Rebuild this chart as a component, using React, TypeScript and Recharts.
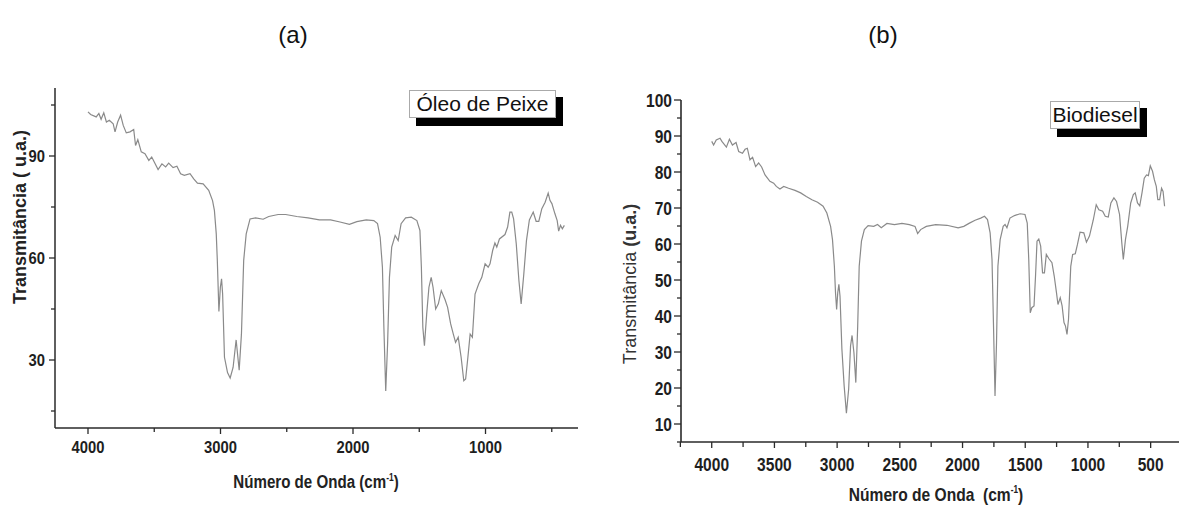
import React from "react";
import { LineChart, Line, XAxis, YAxis } from "recharts";

// (a) Óleo de Peixe: wavenumber (cm-1) and transmittance
const oleoWave = [
  4000, 3980, 3938, 3918, 3901, 3881, 3861, 3839, 3810, 3796, 3776, 3754, 3734, 3711, 3683, 3655,
  3641, 3624, 3598, 3570, 3541, 3519, 3471, 3442, 3414, 3391, 3358, 3329, 3301, 3273, 3230, 3202,
  3174, 3131, 3089, 3060, 3046, 3032, 3024, 3012, 3001, 2992, 2984, 2970, 2947, 2927, 2905, 2882,
  2859, 2842, 2825, 2806, 2777, 2735, 2678, 2636, 2565, 2508, 2424, 2339, 2254, 2169, 2098, 2027,
  1971, 1900, 1843, 1815, 1795, 1778, 1767, 1753, 1739, 1725, 1708, 1682, 1659, 1637, 1603, 1560,
  1518, 1495, 1484, 1473, 1461, 1444, 1427, 1410, 1396, 1376, 1356, 1334, 1305, 1286, 1263, 1243,
  1226, 1206, 1184, 1164, 1150, 1133, 1116, 1099, 1079, 1051, 1028, 1003, 980, 966, 946, 929,
  915, 895, 853, 833, 816, 802, 788, 768, 748, 731, 711, 691, 669, 640, 618, 598,
  575, 550, 527, 513, 499, 476, 459, 448, 434, 420, 405,
];
const oleoT = [
  103.0, 102.2, 101.5, 102.5, 100.8, 102.7, 100.0, 100.5, 99.5, 97.1, 100.0, 102.0, 99.0, 96.8, 97.1, 97.8,
  93.1, 94.8, 91.2, 90.7, 88.7, 89.7, 86.0, 87.7, 86.8, 87.9, 86.6, 87.0, 84.8, 84.3, 84.8, 83.3,
  82.0, 81.8, 79.9, 76.9, 74.0, 67.1, 59.3, 44.3, 51.4, 53.9, 49.4, 30.8, 26.3, 24.7, 27.8, 35.9,
  27.0, 37.6, 59.3, 67.1, 71.5, 71.8, 71.4, 72.2, 72.8, 72.8, 72.2, 71.8, 71.2, 71.2, 70.6, 69.9,
  70.7, 71.2, 71.0, 70.1, 66.1, 57.3, 39.6, 20.9, 34.7, 54.3, 63.2, 66.6, 65.1, 70.1, 71.8, 72.0,
  71.0, 68.1, 57.3, 39.6, 34.2, 43.5, 51.4, 54.3, 51.4, 45.0, 46.5, 50.4, 47.7, 45.5, 40.6, 37.6,
  35.2, 36.7, 30.8, 23.9, 24.4, 30.8, 37.6, 36.7, 49.4, 52.4, 54.3, 58.3, 57.3, 58.3, 62.2, 64.4,
  63.2, 65.6, 66.9, 69.1, 73.5, 73.5, 71.5, 64.2, 53.4, 46.5, 55.3, 65.1, 71.2, 73.5, 70.8, 70.8,
  74.5, 76.4, 79.1, 76.9, 76.0, 73.0, 71.0, 67.9, 69.6, 68.6, 69.6,
];

// (b) Biodiesel
const bioWave = [
  4000, 3985, 3964, 3934, 3919, 3883, 3859, 3835, 3806, 3785, 3755, 3734, 3716, 3695, 3674, 3650,
  3626, 3602, 3575, 3536, 3506, 3485, 3456, 3426, 3387, 3336, 3291, 3246, 3201, 3156, 3112, 3082,
  3052, 3037, 3022, 3013, 3004, 2995, 2986, 2977, 2962, 2944, 2926, 2908, 2893, 2881, 2866, 2851,
  2836, 2824, 2806, 2783, 2753, 2708, 2678, 2648, 2603, 2543, 2483, 2424, 2379, 2358, 2334, 2289,
  2214, 2124, 2035, 1990, 1945, 1900, 1855, 1825, 1801, 1780, 1765, 1753, 1741, 1729, 1718, 1700,
  1676, 1661, 1646, 1622, 1586, 1541, 1502, 1484, 1472, 1460, 1448, 1430, 1418, 1406, 1392, 1377,
  1362, 1347, 1332, 1311, 1287, 1269, 1251, 1239, 1221, 1206, 1191, 1179, 1167, 1155, 1137, 1122,
  1101, 1084, 1063, 1033, 1012, 988, 958, 934, 913, 883, 862, 838, 817, 793, 772, 748,
  730, 718, 701, 683, 659, 638, 623, 605, 587, 569, 551, 533, 518, 503, 485, 470,
  455, 443, 428, 413, 401, 389,
];
const bioT = [
  88.5, 87.5, 88.9, 89.4, 88.5, 86.9, 89.1, 87.5, 88.2, 85.7, 85.2, 86.3, 86.6, 83.4, 84.1, 81.5,
  82.5, 81.4, 79.2, 77.4, 76.9, 76.0, 75.3, 76.0, 75.5, 74.9, 74.2, 73.2, 72.3, 71.6, 70.5, 68.6,
  64.9, 61.2, 53.8, 46.5, 41.8, 46.5, 48.8, 45.5, 30.8, 20.6, 13.0, 19.7, 31.7, 34.6, 29.8, 21.5,
  37.2, 53.8, 60.8, 64.0, 65.1, 64.9, 65.4, 64.5, 65.7, 65.4, 65.7, 65.4, 64.9, 62.9, 64.0, 64.9,
  65.4, 65.2, 64.5, 64.9, 65.8, 66.6, 67.2, 67.7, 66.8, 63.1, 55.7, 37.2, 17.8, 32.6, 53.8, 61.2,
  64.9, 65.4, 64.5, 67.2, 67.9, 68.4, 68.2, 65.8, 55.7, 40.9, 42.3, 42.8, 51.1, 60.8, 61.4, 59.4,
  52.0, 52.0, 57.1, 55.9, 54.8, 51.1, 46.5, 43.2, 45.1, 42.8, 38.2, 37.2, 34.9, 39.1, 53.8, 57.1,
  57.3, 59.8, 63.3, 63.1, 60.5, 62.2, 66.6, 70.9, 69.5, 69.1, 67.7, 67.5, 71.4, 72.8, 71.8, 68.2,
  60.3, 55.7, 61.2, 64.9, 71.4, 73.7, 74.2, 71.4, 70.6, 74.2, 78.3, 79.2, 79.0, 81.7, 80.2, 77.8,
  76.0, 72.3, 72.3, 75.5, 74.6, 70.5,
];

// axis ticks
const oleoXTicks = [4000, 3500, 3000, 2500, 2000, 1500, 1000, 500];
const oleoXMajor = [4000, 3000, 2000, 1000];
const oleoYTicks = [15, 30, 45, 60, 75, 90, 105];
const oleoYMajor = [30, 60, 90];

const bioXTicks = [4250, 4000, 3750, 3500, 3250, 3000, 2750, 2500, 2250, 2000, 1750, 1500, 1250, 1000, 750, 500];
const bioXMajor = [4000, 3500, 3000, 2500, 2000, 1500, 1000, 500];
const bioYTicks = [5, 10, 15, 20, 25, 30, 35, 40, 45, 50, 55, 60, 65, 70, 75, 80, 85, 90, 95, 100];
const bioYMajor = [10, 20, 30, 40, 50, 60, 70, 80, 90, 100];

const oleoData = oleoWave.map((w, i) => ({ w, t: oleoT[i] }));
const bioData = bioWave.map((w, i) => ({ w, t: bioT[i] }));

const AXIS = "#2a2a2a";
const LINE = "#8a8a8a";
const SANS = "'Liberation Sans', Arial, sans-serif";

// the original labels are a condensed bold face: squeeze Liberation Sans Bold horizontally
const fontA = { size: 17, sx: 0.87 };
const fontB = { size: 19, sx: 0.82 };

const tickText = (x: number, y: number, anchor: string, f: { size: number; sx: number }, value: number) => (
  <text
    transform={`translate(${x},${y}) scale(${f.sx},1)`}
    textAnchor={anchor}
    style={{ fontFamily: SANS, fontWeight: 700, fontSize: f.size, fill: "#1e1e1e" }}
  >
    {value}
  </text>
);

const xTick = (majors: number[], f: any, labelDy: number, majorLen: number, minorLen: number) =>
  (props: any) => {
    const { x, y, payload } = props;
    const major = majors.includes(payload.value);
    return (
      <g>
        <line x1={x} x2={x} y1={y} y2={y + (major ? majorLen : minorLen)} stroke={AXIS} strokeWidth={1.3} />
        {major && tickText(x, y + labelDy, "middle", f, payload.value)}
      </g>
    );
  };

const yTick = (majors: number[], f: any, gap: number, dy: number, majorLen: number, minorLen: number) =>
  (props: any) => {
    const { x, y, payload } = props;
    const major = majors.includes(payload.value);
    return (
      <g>
        <line x1={x} x2={x - (major ? majorLen : minorLen)} y1={y} y2={y} stroke={AXIS} strokeWidth={1.3} />
        {major && tickText(x - gap, y + dy, "end", f, payload.value)}
      </g>
    );
  };

const legendBox = (left: number, top: number, w: number, h: number, text: string) => (
  <>
    <div style={{ position: "absolute", left: left + 7, top: top + 7, width: w, height: h + 1, background: "#000" }} />
    <div
      style={{
        position: "absolute",
        left,
        top,
        width: w - 2,
        height: h - 2,
        background: "#fff",
        border: "1px solid #aaa",
        fontSize: 21,
        lineHeight: `${h - 2}px`,
        textAlign: "center",
        color: "#111",
        whiteSpace: "nowrap",
      }}
    >
      {text}
    </div>
  </>
);

export default function App() {
  return (
    <div
      style={{
        position: "absolute",
        left: 0,
        top: 0,
        width: 1179,
        height: 506,
        overflow: "hidden",
        background: "#fff",
        fontFamily: SANS,
      }}
    >
      {/* (a) */}
      <div style={{ position: "absolute", left: 0, top: 0 }}>
        <LineChart width={600} height={506} data={oleoData} margin={{ top: 88, right: 22, bottom: 0, left: 0 }}>
          <XAxis
            xAxisId="x"
            dataKey="w"
            type="number"
            domain={[302, 4249]}
            reversed
            allowDataOverflow
            ticks={oleoXTicks}
            interval={0}
            height={78}
            tickSize={0}
            tickMargin={0}
            tickLine={false}
            axisLine={{ stroke: AXIS, strokeWidth: 1.5 }}
            tick={xTick(oleoXMajor, fontA, 25, 6, 4)}
          />
          <XAxis
            xAxisId="top"
            orientation="top"
            type="number"
            domain={[302, 4249]}
            height={0}
            tick={false}
            tickLine={false}
            axisLine={{ stroke: AXIS, strokeWidth: 2 }}
          />
          <YAxis
            yAxisId="y"
            type="number"
            domain={[10, 110]}
            allowDataOverflow
            ticks={oleoYTicks}
            interval={0}
            width={55}
            tickSize={0}
            tickMargin={0}
            tickLine={false}
            axisLine={{ stroke: AXIS, strokeWidth: 1.5 }}
            tick={yTick(oleoYMajor, fontA, 10, 6, 6, 4)}
          />
          <YAxis
            yAxisId="r"
            orientation="right"
            type="number"
            domain={[10, 110]}
            width={0}
            tick={false}
            tickLine={false}
            axisLine={{ stroke: AXIS, strokeWidth: 1.5 }}
          />
          <Line
            xAxisId="x"
            yAxisId="y"
            dataKey="t"
            type="linear"
            stroke={LINE}
            strokeWidth={1.2}
            dot={false}
            isAnimationActive={false}
          />
        </LineChart>
      </div>

      {/* (b) */}
      <div style={{ position: "absolute", left: 590, top: 0 }}>
        <LineChart width={600} height={506} data={bioData} margin={{ top: 100, right: 9, bottom: 0, left: 0 }}>
          <XAxis
            xAxisId="x"
            dataKey="w"
            type="number"
            domain={[258, 4245]}
            reversed
            allowDataOverflow
            ticks={bioXTicks}
            interval={0}
            height={64}
            tickSize={0}
            tickMargin={0}
            tickLine={false}
            axisLine={{ stroke: AXIS, strokeWidth: 1.6 }}
            tick={xTick(bioXMajor, fontB, 29, 6, 5)}
          />
          <XAxis
            xAxisId="top"
            orientation="top"
            type="number"
            domain={[258, 4245]}
            height={0}
            tick={false}
            tickLine={false}
            axisLine={{ stroke: "#111", strokeWidth: 2.2 }}
          />
          <YAxis
            yAxisId="y"
            type="number"
            domain={[5, 100]}
            allowDataOverflow
            ticks={bioYTicks}
            interval={0}
            width={91}
            tickSize={0}
            tickMargin={0}
            tickLine={false}
            axisLine={{ stroke: AXIS, strokeWidth: 1.6 }}
            tick={yTick(bioYMajor, fontB, 9, 7, 7, 4)}
          />
          <Line
            xAxisId="x"
            yAxisId="y"
            dataKey="t"
            type="linear"
            stroke={LINE}
            strokeWidth={1.2}
            dot={false}
            isAnimationActive={false}
          />
        </LineChart>
      </div>

      {/* titles */}
      <div style={{ position: "absolute", left: 293, top: 35, transform: "translate(-50%, -50%)", fontSize: 24, color: "#111" }}>(a)</div>
      <div style={{ position: "absolute", left: 883, top: 35, transform: "translate(-50%, -50%)", fontSize: 24, color: "#111" }}>(b)</div>

      {/* legends */}
      {legendBox(409, 90, 147, 28, "Óleo de Peixe")}
      {legendBox(1050, 101, 90, 28, "Biodiesel")}

      {/* axis titles (a) */}
      <div
        style={{
          position: "absolute",
          left: 20,
          top: 217,
          transform: "translate(-50%, -50%) rotate(-90deg)",
          whiteSpace: "nowrap",
          fontWeight: 700,
          fontSize: 18,
          color: "#222",
        }}
      >
        Transmitância ( u.a.)
      </div>
      <div
        style={{
          position: "absolute",
          left: 316,
          top: 482,
          transform: "translate(-50%, -50%) scaleX(0.84)",
          whiteSpace: "nowrap",
          fontWeight: 700,
          fontSize: 18,
          lineHeight: 1,
          color: "#222",
        }}
      >
        Número de Onda (cm<sup style={{ fontSize: 10 }}>-1</sup>)
      </div>

      {/* axis titles (b) */}
      <div
        style={{
          position: "absolute",
          left: 630,
          top: 284,
          transform: "translate(-50%, -50%) rotate(-90deg)",
          whiteSpace: "nowrap",
          fontSize: 18,
          color: "#333",
        }}
      >
        Transmitância <b>(u.a.)</b>
      </div>
      <div
        style={{
          position: "absolute",
          left: 936,
          top: 494,
          transform: "translate(-50%, -50%) scaleX(0.82)",
          whiteSpace: "nowrap",
          fontWeight: 700,
          fontSize: 19,
          lineHeight: 1,
          color: "#222",
        }}
      >
        Número de Onda&nbsp; (cm<sup style={{ fontSize: 10 }}>-1</sup>)
      </div>
    </div>
  );
}
